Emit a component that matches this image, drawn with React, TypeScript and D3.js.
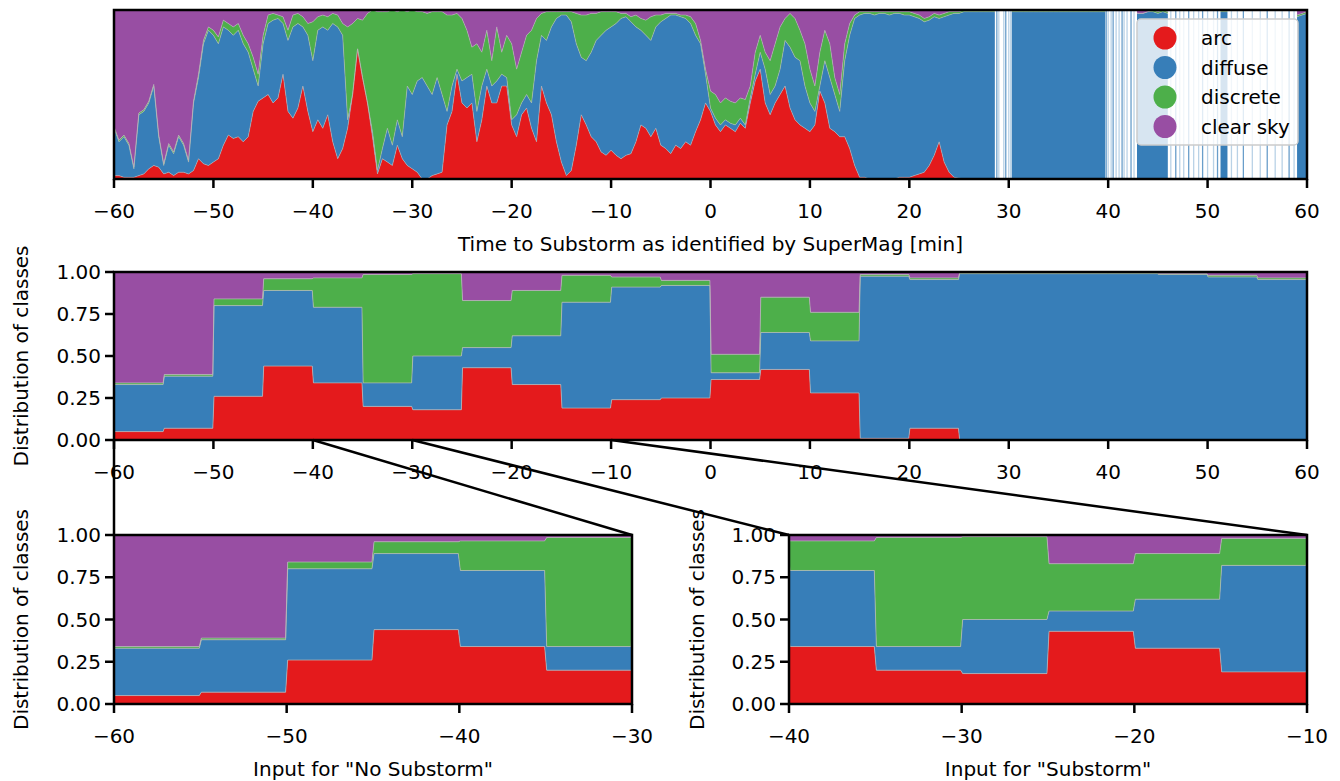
import React from "react";
import * as d3 from "d3";

const FONT = "DejaVu Sans";
const FS = 20;

const classNames = ["arc", "diffuse", "discrete", "clear sky"];
const classColors = ["#e41a1c", "#377eb8", "#4daf4a", "#984ea3"];

// top panel: time grid (-60..60 min, 0.5 min step) and cumulative class shares
const minutes = d3.range(0, 241).map((k) => -60 + k * 0.5);

// rows of 10 values = 5 min each
const arcEdge = [
  0.02, 0.02, 0.01, 0.01, 0.01, 0.02, 0.03, 0.06, 0.08, 0.07,
  0.03, 0.04, 0.02, 0.04, 0.04, 0.03, 0.05, 0.12, 0.09, 0.08,
  0.10, 0.12, 0.20, 0.26, 0.24, 0.25, 0.22, 0.25, 0.40, 0.46,
  0.48, 0.50, 0.45, 0.48, 0.62, 0.40, 0.36, 0.42, 0.55, 0.40,
  0.28, 0.35, 0.30, 0.38, 0.22, 0.12, 0.18, 0.30, 0.50, 0.77,
  0.60, 0.45, 0.25, 0.03, 0.12, 0.10, 0.08, 0.20, 0.12, 0.08,
  0.06, 0.04, 0.00, 0.00, 0.02, 0.03, 0.04, 0.32, 0.40, 0.62,
  0.45, 0.42, 0.45, 0.22, 0.35, 0.55, 0.45, 0.45, 0.55, 0.55,
  0.32, 0.25, 0.38, 0.42, 0.30, 0.22, 0.55, 0.45, 0.38, 0.22,
  0.10, 0.02, 0.05, 0.20, 0.38, 0.32, 0.25, 0.22, 0.16, 0.14,
  0.17, 0.14, 0.12, 0.14, 0.15, 0.22, 0.32, 0.30, 0.25, 0.30,
  0.20, 0.18, 0.15, 0.20, 0.18, 0.22, 0.20, 0.28, 0.35, 0.45,
  0.40, 0.32, 0.28, 0.32, 0.30, 0.28, 0.33, 0.30, 0.45, 0.58,
  0.65, 0.45, 0.38, 0.45, 0.50, 0.55, 0.42, 0.35, 0.32, 0.30,
  0.28, 0.32, 0.52, 0.45, 0.30, 0.28, 0.25, 0.25, 0.18, 0.08,
  0.01, 0.01, 0.00, 0.00, 0.00, 0.00, 0.00, 0.00, 0.01, 0.01,
  0.01, 0.02, 0.03, 0.04, 0.08, 0.14, 0.22, 0.10, 0.04, 0.01,
  0.005, 0, 0, 0, 0, 0, 0, 0, 0, 0,
  0, 0, 0, 0, 0, 0, 0, 0, 0, 0,
  0, 0, 0, 0, 0, 0, 0, 0, 0, 0,
  0, 0, 0, 0, 0, 0, 0, 0, 0, 0,
  0, 0, 0, 0, 0, 0, 0, 0, 0, 0,
  0, 0, 0, 0, 0, 0, 0, 0, 0, 0,
  0, 0, 0, 0, 0, 0, 0, 0, 0, 0,
  0,
];

const diffuseEdge = [
  0.30, 0.22, 0.25, 0.20, 0.06, 0.38, 0.40, 0.45, 0.55, 0.25,
  0.08, 0.20, 0.15, 0.25, 0.20, 0.10, 0.45, 0.60, 0.80, 0.88,
  0.85, 0.80, 0.90, 0.88, 0.85, 0.88, 0.80, 0.75, 0.65, 0.55,
  0.80, 0.92, 0.94, 0.95, 0.92, 0.82, 0.90, 0.92, 0.90, 0.85,
  0.70, 0.88, 0.90, 0.88, 0.92, 0.90, 0.85, 0.35, 0.50, 0.77,
  0.60, 0.45, 0.28, 0.05, 0.18, 0.30, 0.20, 0.35, 0.25, 0.55,
  0.50, 0.58, 0.60, 0.55, 0.50, 0.60, 0.50, 0.40, 0.55, 0.65,
  0.58, 0.60, 0.62, 0.40, 0.55, 0.65, 0.55, 0.58, 0.62, 0.60,
  0.35, 0.38, 0.45, 0.50, 0.45, 0.70, 0.85, 0.82, 0.90, 0.95,
  0.97, 0.97, 0.93, 0.80, 0.72, 0.70, 0.75, 0.82, 0.85, 0.88,
  0.90, 0.92, 0.95, 0.96, 0.93, 0.90, 0.88, 0.85, 0.82, 0.90,
  0.93, 0.95, 0.97, 0.97, 0.96, 0.95, 0.92, 0.85, 0.80, 0.62,
  0.42, 0.36, 0.32, 0.35, 0.33, 0.32, 0.36, 0.32, 0.48, 0.62,
  0.75, 0.65, 0.50, 0.55, 0.65, 0.82, 0.78, 0.72, 0.70, 0.55,
  0.45, 0.40, 0.55, 0.70, 0.60, 0.50, 0.40, 0.70, 0.85, 0.95,
  0.97, 0.98, 0.98, 0.97, 0.98, 0.98, 0.97, 0.98, 0.98, 0.97,
  0.97, 0.96, 0.95, 0.93, 0.94, 0.96, 0.95, 0.96, 0.97, 0.98,
  0.98, 0.99, 0.99, 0.99, 0.99, 0.99, 0.99, 0.99, 0.99, 0.99,
  0.99, 0.99, 0.99, 0.99, 0.99, 0.99, 0.99, 0.99, 0.99, 0.99,
  0.99, 0.99, 0.99, 0.99, 0.99, 0.99, 0.99, 0.99, 0.99, 0.99,
  0.99, 0.99, 0.99, 0.99, 0.99, 0.99, 0.98, 0.98, 0.99, 0.99,
  0.98, 0.99, 0.98, 0.96, 0.97, 0.99, 0.98, 0.99, 0.99, 0.99,
  0.99, 0.99, 0.99, 0.99, 0.99, 0.99, 0.99, 0.99, 0.99, 0.99,
  0.99, 0.99, 0.99, 0.99, 0.98, 0.99, 0.99, 0.98, 0.96, 0.97,
  0.98,
];

const discreteEdge = [
  0.31, 0.23, 0.26, 0.21, 0.07, 0.39, 0.41, 0.46, 0.56, 0.26,
  0.09, 0.21, 0.16, 0.26, 0.21, 0.11, 0.46, 0.62, 0.82, 0.90,
  0.88, 0.84, 0.94, 0.92, 0.90, 0.92, 0.85, 0.80, 0.72, 0.62,
  0.85, 0.97, 0.98, 0.97, 0.96, 0.88, 0.97, 0.98, 0.96, 0.92,
  0.93, 0.96, 0.97, 0.96, 0.98, 0.97, 0.92, 0.90, 0.92, 0.95,
  0.94, 0.98, 1.00, 0.99, 0.99, 0.99, 1.00, 0.99, 1.00, 0.99,
  1.00, 0.99, 0.99, 0.98, 0.99, 0.99, 0.99, 0.97, 0.97, 0.98,
  0.95, 0.88, 0.78, 0.80, 0.75, 0.88, 0.70, 0.90, 0.75, 0.85,
  0.80, 0.65, 0.75, 0.85, 0.88, 0.95, 0.98, 0.99, 0.99, 0.99,
  0.99, 0.99, 0.99, 0.98, 0.97, 0.97, 0.98, 0.98, 0.99, 0.99,
  0.99, 0.99, 0.98, 0.98, 0.96, 0.97, 0.95, 0.94, 0.96, 0.97,
  0.97, 0.98, 0.98, 0.98, 0.97, 0.97, 0.96, 0.92, 0.82, 0.65,
  0.52, 0.50, 0.45, 0.48, 0.46, 0.45, 0.48, 0.47, 0.55, 0.75,
  0.85, 0.75, 0.70, 0.80, 0.90, 0.95, 0.98, 0.95, 0.88, 0.80,
  0.65, 0.55, 0.75, 0.88, 0.80, 0.60, 0.50, 0.80, 0.92, 0.97,
  0.99, 0.99, 0.99, 0.99, 0.99, 0.99, 0.99, 0.99, 0.99, 0.99,
  0.99, 0.98, 0.97, 0.95, 0.96, 0.98, 0.97, 0.98, 0.99, 0.99,
  0.99, 1.00, 1.00, 1.00, 1.00, 1.00, 1.00, 1.00, 1.00, 1.00,
  1.00, 1.00, 1.00, 1.00, 1.00, 1.00, 1.00, 1.00, 1.00, 1.00,
  1.00, 1.00, 1.00, 1.00, 1.00, 1.00, 1.00, 1.00, 1.00, 1.00,
  1.00, 1.00, 1.00, 1.00, 0.99, 0.99, 0.98, 0.98, 0.99, 1.00,
  0.99, 1.00, 0.99, 0.97, 0.98, 1.00, 0.99, 1.00, 1.00, 1.00,
  1.00, 1.00, 1.00, 1.00, 1.00, 1.00, 1.00, 1.00, 1.00, 1.00,
  1.00, 1.00, 1.00, 1.00, 0.99, 1.00, 1.00, 0.99, 0.97, 0.98,
  0.99,
];

// stretches with no images (drawn white) and lone samples inside them
const gapStart = [28.6, 39.7, 46.0, 52.0];
const gapEnd = [30.3, 42.9, 51.3, 59.0];
const loneSamples = [
  28.8, 29.0, 29.5, 29.7, 30.0, 30.2,
  39.8, 40.0, 40.3, 40.5, 40.8, 41.1, 41.4, 41.6, 41.9, 42.3, 42.6,
  46.3, 46.8, 47.2, 47.6, 48.1, 48.6, 49.1, 49.5, 50.0, 50.6, 51.0,
  52.4, 53.0, 53.6, 54.5, 55.3, 56.0, 56.8, 57.5, 58.2, 58.7,
];

// 5-minute bins, cumulative shares
const binStart = d3.range(-60, 60, 5);
const arcBin = [0.05, 0.07, 0.26, 0.44, 0.34, 0.2, 0.18, 0.43, 0.33, 0.19, 0.24, 0.25, 0.36, 0.42, 0.28, 0.01, 0.07, 0, 0, 0, 0, 0, 0, 0];
const diffuseBin = [0.33, 0.38, 0.8, 0.89, 0.79, 0.34, 0.5, 0.55, 0.62, 0.82, 0.91, 0.92, 0.4, 0.64, 0.59, 0.975, 0.955, 0.99, 0.99, 0.99, 0.99, 0.985, 0.97, 0.955];
const discreteBin = [0.34, 0.39, 0.84, 0.96, 0.965, 0.985, 0.99, 0.83, 0.89, 0.98, 0.97, 0.95, 0.51, 0.85, 0.76, 0.985, 0.965, 0.995, 0.995, 0.995, 0.995, 0.99, 0.98, 0.965];

const fullTicks = [-60, -50, -40, -30, -20, -10, 0, 10, 20, 30, 40, 50, 60];
const fracTicks = [0, 0.25, 0.5, 0.75, 1];

const fmtX = (t) => String(t).replace("-", "\u2212");
const fmtY = d3.format(".2f");

const TICK = 9;
const SPINE = 2.5;

const XAxis = ({ xScale, y, ticks }) => (
  <g>
    {ticks.map((t) => (
      <g key={t}>
        <line x1={xScale(t)} x2={xScale(t)} y1={y} y2={y + TICK} stroke="#000" strokeWidth={SPINE} />
        <text x={xScale(t)} y={y + 39} textAnchor="middle" fontSize={FS} fontFamily={FONT} fill="#000">
          {fmtX(t)}
        </text>
      </g>
    ))}
  </g>
);

const YAxis = ({ yScale, x, ticks }) => (
  <g>
    {ticks.map((t) => (
      <g key={t}>
        <line x1={x} x2={x - TICK} y1={yScale(t)} y2={yScale(t)} stroke="#000" strokeWidth={SPINE} />
        <text x={x - 13} y={yScale(t)} dy="0.35em" textAnchor="end" fontSize={FS} fontFamily={FONT} fill="#000">
          {fmtY(t)}
        </text>
      </g>
    ))}
  </g>
);

const YLabel = ({ x, y }) => (
  <text transform={`translate(${x},${y}) rotate(-90)`} textAnchor="middle" fontSize={FS} fontFamily={FONT} fill="#000">
    Distribution of classes
  </text>
);

const TopPanel = () => {
  const x0 = 114, x1 = 1307, y0 = 10, y1 = 179;
  const x = d3.scaleLinear().domain([-60, 60]).range([x0, x1]);
  const y = d3.scaleLinear().domain([0, 1]).range([y1, y0]);
  const rows = minutes.map((t, i) => ({ t, e: [0, arcEdge[i], diffuseEdge[i], discreteEdge[i], 1] }));
  const area = (k) =>
    d3.area().x((d) => x(d.t)).y0((d) => y(d.e[k])).y1((d) => y(d.e[k + 1]))(rows);
  const edge = (k) => d3.line().x((d) => x(d.t)).y((d) => y(d.e[k]))(rows);

  return (
    <g>
      <defs>
        <clipPath id="clipTop">
          <rect x={x0} y={y0} width={x1 - x0} height={y1 - y0} />
        </clipPath>
      </defs>
      <g clipPath="url(#clipTop)">
        {classColors.map((c, k) => (
          <path key={k} d={area(k)} fill={c} />
        ))}
        {[1, 2, 3].map((k) => (
          <path key={k} d={edge(k)} fill="none" stroke="#b8b8b8" strokeOpacity={0.55} strokeWidth={1} />
        ))}
        {gapStart.map((s, i) => (
          <rect key={i} x={x(s)} y={y0} width={x(gapEnd[i]) - x(s)} height={y1 - y0} fill="#fff" />
        ))}
        {loneSamples.map((t, i) => (
          <line key={i} x1={x(t)} x2={x(t)} y1={y0} y2={y1} stroke="#377eb8" strokeOpacity={i % 3 === 0 ? 0.75 : 0.35} strokeWidth={1.3} />
        ))}
      </g>
      <rect x={x0} y={y0} width={x1 - x0} height={y1 - y0} fill="none" stroke="#000" strokeWidth={SPINE} />
      <XAxis xScale={x} y={y1} ticks={fullTicks} />
      <text x={(x0 + x1) / 2} y={y1 + 72} textAnchor="middle" fontSize={FS} fontFamily={FONT}>
        Time to Substorm as identified by SuperMag [min]
      </text>
      <g>
        <rect x={1137} y={19} width={161} height={126} rx={4} fill="#fff" fillOpacity={0.8} stroke="#cccccc" strokeWidth={1.5} />
        {classNames.map((name, i) => (
          <g key={name}>
            <circle cx={1165} cy={38 + i * 29.5} r={11.5} fill={classColors[i]} />
            <text x={1201} y={38 + i * 29.5} dy="0.35em" fontSize={FS} fontFamily={FONT} fill="#000">
              {name}
            </text>
          </g>
        ))}
      </g>
    </g>
  );
};

const BinPanel = ({ id, x0, x1, y0, y1, domain, ticks, xLabel, labelX }) => {
  const x = d3.scaleLinear().domain(domain).range([x0, x1]);
  const y = d3.scaleLinear().domain([0, 1]).range([y1, y0]);
  const eps = 0.06;
  const last = binStart.length - 1;
  const rows = [];
  binStart.forEach((s, i) => {
    const e = [0, arcBin[i], diffuseBin[i], discreteBin[i], 1];
    rows.push({ t: i === 0 ? s : s + eps, e });
    rows.push({ t: i === last ? s + 5 : s + 5 - eps, e });
  });
  const area = (k) =>
    d3.area().x((d) => x(d.t)).y0((d) => y(d.e[k])).y1((d) => y(d.e[k + 1]))(rows);
  const edge = (k) => d3.line().x((d) => x(d.t)).y((d) => y(d.e[k]))(rows);

  return (
    <g>
      <defs>
        <clipPath id={id}>
          <rect x={x0} y={y0} width={x1 - x0} height={y1 - y0} />
        </clipPath>
      </defs>
      <g clipPath={`url(#${id})`}>
        {classColors.map((c, k) => (
          <path key={k} d={area(k)} fill={c} />
        ))}
        {[1, 2, 3].map((k) => (
          <path key={k} d={edge(k)} fill="none" stroke="#b8b8b8" strokeOpacity={0.7} strokeWidth={1} />
        ))}
      </g>
      <rect x={x0} y={y0} width={x1 - x0} height={y1 - y0} fill="none" stroke="#000" strokeWidth={SPINE} />
      <XAxis xScale={x} y={y1} ticks={ticks} />
      <YAxis yScale={y} x={x0} ticks={fracTicks} />
      <YLabel x={labelX} y={(y0 + y1) / 2} />
      {xLabel && (
        <text x={(x0 + x1) / 2} y={y1 + 72} textAnchor="middle" fontSize={FS} fontFamily={FONT}>
          {xLabel}
        </text>
      )}
    </g>
  );
};

// which minute of the middle panel connects to which corner of a zoom panel
const linkFrom = [-60, -40, -30, -10];
const linkTo = [-60, -30, -40, -10];
const linkPanel = ["left", "left", "right", "right"];

export default function App() {
  const mid = { x0: 114, x1: 1307, y0: 272, y1: 440 };
  const left = { x0: 114, x1: 632, y0: 535, y1: 704, domain: [-60, -30] };
  const right = { x0: 789, x1: 1307, y0: 535, y1: 704, domain: [-40, -10] };
  const xMid = d3.scaleLinear().domain([-60, 60]).range([mid.x0, mid.x1]);
  const xLeft = d3.scaleLinear().domain(left.domain).range([left.x0, left.x1]);
  const xRight = d3.scaleLinear().domain(right.domain).range([right.x0, right.x1]);

  return (
    <svg width={1340} height={781} style={{ position: "absolute", left: 0, top: 0, background: "#fff" }}>
      <rect width={1340} height={781} fill="#fff" />
      <TopPanel />
      <BinPanel id="clipMid" {...mid} domain={[-60, 60]} ticks={fullTicks} labelX={28} />
      <BinPanel id="clipLeft" {...left} ticks={[-60, -50, -40, -30]} xLabel={'Input for "No Substorm"'} labelX={28} />
      <BinPanel id="clipRight" {...right} ticks={[-40, -30, -20, -10]} xLabel={'Input for "Substorm"'} labelX={704} />
      {linkFrom.map((t, i) => (
        <line
          key={i}
          x1={xMid(t)}
          y1={mid.y1}
          x2={linkPanel[i] === "left" ? xLeft(linkTo[i]) : xRight(linkTo[i])}
          y2={left.y0}
          stroke="#000"
          strokeWidth={SPINE}
        />
      ))}
    </svg>
  );
}
